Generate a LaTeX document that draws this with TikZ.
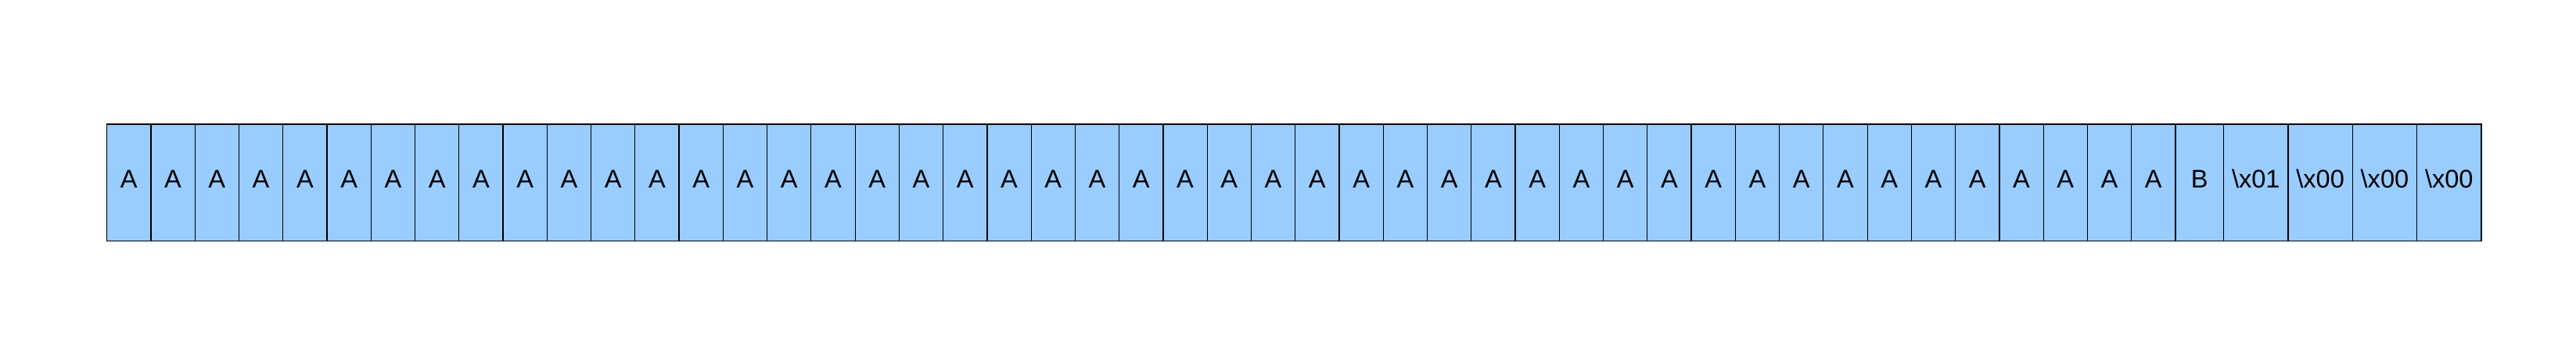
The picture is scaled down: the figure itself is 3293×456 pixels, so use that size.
\documentclass[tikz,border=0pt]{standalone}
\usepackage{fontspec}
\setmainfont{Liberation Sans}
\definecolor{cellblue}{HTML}{99CCFF}
\tikzset{
  cell/.style={rectangle, draw, fill=cellblue, line width=1.2pt, inner sep=0pt, outer sep=0pt,
    minimum height=149.7pt, text height=23.3pt, text depth=9.6pt,
    font=\fontsize{32.6}{39}\selectfont},
  acell/.style={cell, minimum width=56.26pt},
  hexcell/.style={cell, minimum width=82.33pt, anchor=west},
}
\begin{document}
\begin{tikzpicture}[x=1pt,y=-1pt]
  \useasboundingbox (0,0) rectangle (3293,456);
  % padding bytes
  \foreach \i in {1,...,47}
    \node [acell] (a\i) at ({108.57+56.26*\i},233.85) {A};
  \node [cell, minimum width=61.7pt, anchor=west] (b) at (a47.east) {B};
  % trailing bytes
  \node [hexcell] (x1) at (b.east) {\textbackslash x01};
  \node [hexcell] (x2) at (x1.east) {\textbackslash x00};
  \node [hexcell] (x3) at (x2.east) {\textbackslash x00};
  \node [hexcell] (x4) at (x3.east) {\textbackslash x00};
\end{tikzpicture}
\end{document}
